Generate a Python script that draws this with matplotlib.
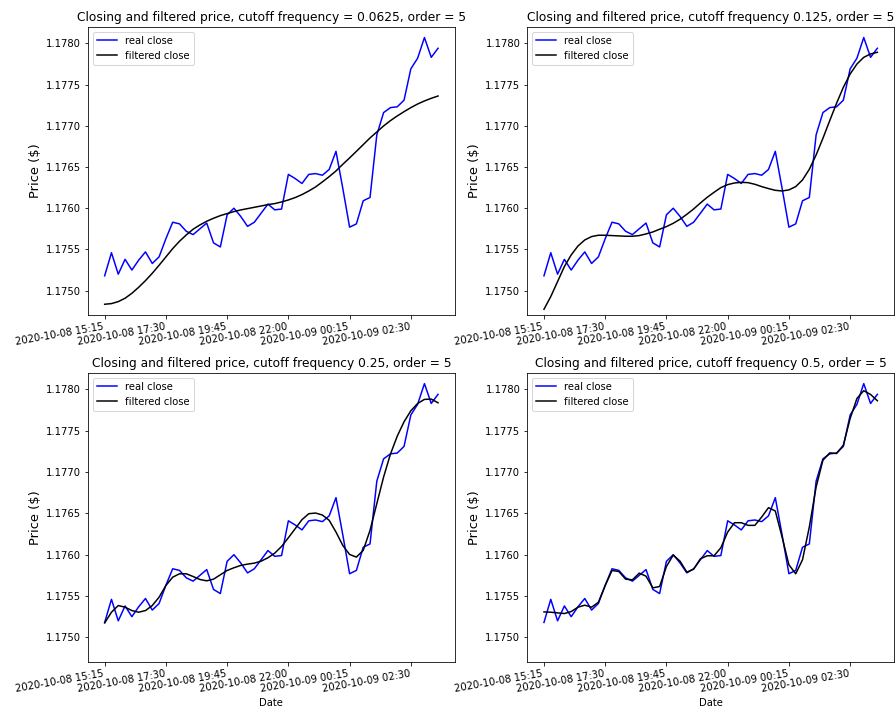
import numpy as np
import pandas as pd
import matplotlib
matplotlib.use("Agg")
import matplotlib.pyplot as plt

# 15-minute EUR/USD closes
times = pd.date_range("2020-10-08 15:15", periods=50, freq="15min")
real_close = [
    1.17518, 1.17546, 1.17520, 1.17538, 1.17525, 1.17537, 1.17547, 1.17533, 1.17541, 1.17563,
    1.17583, 1.17581, 1.17572, 1.17568, 1.17575, 1.17582, 1.17558, 1.17553, 1.17592, 1.17600,
    1.17590, 1.17578, 1.17583, 1.17594, 1.17605, 1.17598, 1.17599, 1.17641, 1.17636, 1.17630,
    1.17641, 1.17642, 1.17640, 1.17647, 1.17669, 1.17624, 1.17577, 1.17581, 1.17609, 1.17613,
    1.17689, 1.17716, 1.17722, 1.17723, 1.17731, 1.17769, 1.17782, 1.17807, 1.17783, 1.17794,
]

# Butterworth low-pass outputs (order 5) for each cutoff
filt_0625 = [
    1.174835, 1.174843, 1.174867, 1.174908, 1.174968, 1.175041, 1.175122, 1.175211, 1.175308, 1.175409,
    1.175510, 1.175599, 1.175676, 1.175745, 1.175797, 1.175842, 1.175878, 1.175910, 1.175935, 1.175959,
    1.175979, 1.175995, 1.176011, 1.176027, 1.176044, 1.176056, 1.176076, 1.176100, 1.176129, 1.176165,
    1.176209, 1.176258, 1.176319, 1.176383, 1.176452, 1.176533, 1.176610, 1.176690, 1.176771, 1.176852,
    1.176925, 1.176998, 1.177062, 1.177119, 1.177171, 1.177220, 1.177264, 1.177301, 1.177333, 1.177361,
]
filt_125 = [
    1.174774, 1.174928, 1.175110, 1.175292, 1.175433, 1.175542, 1.175615, 1.175656, 1.175672, 1.175672,
    1.175668, 1.175664, 1.175660, 1.175660, 1.175668, 1.175688, 1.175712, 1.175745, 1.175777, 1.175817,
    1.175866, 1.175926, 1.175991, 1.176064, 1.176133, 1.176193, 1.176250, 1.176286, 1.176306, 1.176314,
    1.176310, 1.176290, 1.176262, 1.176238, 1.176217, 1.176209, 1.176222, 1.176262, 1.176343, 1.176472,
    1.176646, 1.176848, 1.177062, 1.177272, 1.177466, 1.177628, 1.177749, 1.177830, 1.177871, 1.177891,
]
filt_25 = [
    1.175175, 1.175304, 1.175385, 1.175365, 1.175324, 1.175304, 1.175324, 1.175385, 1.175486, 1.175627,
    1.175728, 1.175769, 1.175769, 1.175736, 1.175700, 1.175684, 1.175704, 1.175757, 1.175809, 1.175842,
    1.175870, 1.175886, 1.175898, 1.175922, 1.175963, 1.176019, 1.176100, 1.176205, 1.176314, 1.176424,
    1.176496, 1.176504, 1.176480, 1.176416, 1.176274, 1.176112, 1.176003, 1.175971, 1.176052, 1.176294,
    1.176618, 1.176941, 1.177216, 1.177434, 1.177608, 1.177741, 1.177830, 1.177879, 1.177883, 1.177838,
]
filt_5 = [
    1.175308, 1.175304, 1.175296, 1.175288, 1.175312, 1.175365, 1.175389, 1.175365, 1.175425, 1.175627,
    1.175809, 1.175797, 1.175704, 1.175696, 1.175777, 1.175740, 1.175599, 1.175615, 1.175858, 1.175995,
    1.175922, 1.175789, 1.175825, 1.175951, 1.175987, 1.175987, 1.176084, 1.176274, 1.176387, 1.176387,
    1.176355, 1.176355, 1.176456, 1.176569, 1.176529, 1.176213, 1.175878, 1.175769, 1.175939, 1.176335,
    1.176820, 1.177143, 1.177232, 1.177224, 1.177325, 1.177648, 1.177891, 1.177984, 1.177939, 1.177863,
]

titles = [
    "Closing and filtered price, cutoff frequency = 0.0625, order = 5",
    "Closing and filtered price, cutoff frequency 0.125, order = 5",
    "Closing and filtered price, cutoff frequency 0.25, order = 5",
    "Closing and filtered price, cutoff frequency 0.5, order = 5",
]
filtered = [filt_0625, filt_125, filt_25, filt_5]

tick_idx = list(range(0, len(times), 9))
tick_labels = [times[i].strftime("%Y-%m-%d %H:%M") for i in tick_idx]
y_ticks = [1.1750, 1.1755, 1.1760, 1.1765, 1.1770, 1.1775, 1.1780]

fig = plt.figure(figsize=(896 / 72, 711 / 72), dpi=72)
rects = [
    [0.0982, 0.5570, 0.4093, 0.4055],
    [0.5885, 0.5570, 0.4093, 0.4055],
    [0.0982, 0.0693, 0.4093, 0.4065],
    [0.5885, 0.0693, 0.4093, 0.4065],
]
x = np.arange(len(times))
for k, (rect, title, filt) in enumerate(zip(rects, titles, filtered)):
    ax = fig.add_axes(rect)
    ax.plot(x, real_close, color="blue", lw=1.5, label="real close")
    ax.plot(x, filt, color="black", lw=1.5, label="filtered close")
    ax.set_title(title, fontsize=12.3)
    ax.set_ylabel("Price ($)", fontsize=13)
    if k >= 2:
        ax.set_xlabel("Date", fontsize=10)
    ax.set_xticks(tick_idx)
    ax.set_xticklabels(tick_labels, rotation=10, ha="right", fontsize=10)
    ax.tick_params(axis="y", labelsize=10)
    ax.set_ylim(1.174705, 1.178202)
    ax.set_yticks(y_ticks)
    ax.set_yticklabels([f"{v:.4f}" for v in y_ticks])
    ax.legend(loc="upper left", fontsize=10)

fig.savefig("out.png", dpi=72)
